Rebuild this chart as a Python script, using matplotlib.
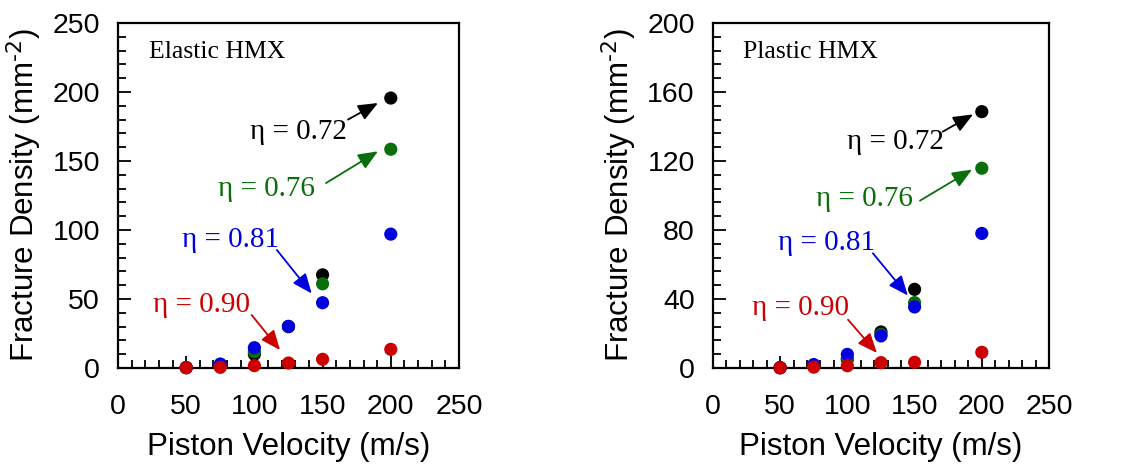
import matplotlib

matplotlib.use("Agg")
import matplotlib.pyplot as plt  # noqa: E402
from matplotlib.ticker import MultipleLocator  # noqa: E402

velocity = [50, 75, 100, 125, 150, 200]
etas = ["0.72", "0.76", "0.81", "0.90"]
colors = ["#000000", "#0a6e0a", "#0000dd", "#cc0000"]

# Elastic HMX, fracture density (mm^-2) per eta
elastic = {
    "0.72": [0.3, 1.5, 9.9, 30.0, 67.5, 195.6],
    "0.76": [0.3, 1.8, 11.8, 30.0, 61.0, 158.5],
    "0.81": [0.3, 2.9, 14.7, 30.2, 47.3, 97.0],
    "0.90": [0.2, 0.5, 1.7, 3.6, 6.3, 13.5],
}
# Plastic HMX
plastic = {
    "0.72": [0.2, 1.2, 5.0, 20.9, 45.6, 148.6],
    "0.76": [0.2, 1.5, 5.6, 19.5, 37.9, 115.8],
    "0.81": [0.2, 2.0, 7.9, 18.6, 35.4, 78.0],
    "0.90": [0.1, 0.5, 1.3, 3.1, 3.3, 9.1],
}

# label anchor (x, y) and arrow tail/head, in data coords
elastic_notes = {
    "0.72": ((97, 171), (168.6, 180), (190.6, 192)),
    "0.76": ((73, 130), (152.5, 134), (190.6, 157)),
    "0.81": ((47, 93), (116.5, 85.5), (142, 54)),
    "0.90": ((26, 45.6), (98, 38.4), (118.8, 13)),
}
plastic_notes = {
    "0.72": ((100, 131), (171, 137), (193.5, 147)),
    "0.76": ((77, 98), (154, 97), (192.7, 115)),
    "0.81": ((48.5, 72.5), (119, 66.5), (145, 42)),
    "0.90": ((29, 34.8), (100.5, 28), (122, 8.7)),
}

SERIF = "Liberation Serif"
SANS = "Liberation Sans"

fig = plt.figure(figsize=(11.28, 4.65), dpi=100)
ax1 = fig.add_axes([0.1046, 0.2086, 0.3023, 0.742])
ax2 = fig.add_axes([0.632, 0.2086, 0.298, 0.742])


def draw_panel(ax, data, notes, title, ymax, ymajor, yminor):
    for eta, col in zip(etas, colors):
        ax.scatter(velocity, data[eta], s=90, color=col, zorder=3,
                   edgecolors="none", clip_on=False)
    for eta, col in zip(etas, colors):
        (tx, ty), tail, head = notes[eta]
        ax.text(tx, ty, f"η = {eta}", color=col, fontsize=21,
                family=SERIF, va="center", ha="left")
        ax.annotate("", xy=head, xytext=tail,
                    arrowprops=dict(arrowstyle="-|>,head_length=0.6,head_width=0.25",
                                    color=col, lw=1.3, mutation_scale=20,
                                    shrinkA=0, shrinkB=0))
    ax.text(0.09, 0.915, title, transform=ax.transAxes, fontsize=18.5,
            family=SERIF, va="center")
    ax.set_xlim(0, 250)
    ax.set_ylim(0, ymax)
    ax.xaxis.set_major_locator(MultipleLocator(50))
    ax.xaxis.set_minor_locator(MultipleLocator(10))
    ax.yaxis.set_major_locator(MultipleLocator(ymajor))
    ax.yaxis.set_minor_locator(MultipleLocator(yminor))
    ax.tick_params(which="both", direction="in", top=False, right=False,
                   width=1.3, labelsize=20.5)
    ax.tick_params(axis="x", which="both", pad=19)
    ax.tick_params(axis="y", which="both", pad=13)
    ax.tick_params(which="major", length=9)
    ax.tick_params(which="minor", length=6)
    for lab in ax.get_xticklabels() + ax.get_yticklabels():
        lab.set_family(SANS)
    for sp in ax.spines.values():
        sp.set_linewidth(1.6)
    ax.set_xlabel("Piston Velocity (m/s)", fontsize=22.5, family=SANS,
                  labelpad=8)
    ax.set_ylabel(r"Fracture Density (mm$^{\text{-2}}$)", fontsize=22.5,
                  family=SANS, labelpad=6)


draw_panel(ax1, elastic, elastic_notes, "Elastic HMX", 250, 50, 10)
draw_panel(ax2, plastic, plastic_notes, "Plastic HMX", 200, 40, 8)

fig.savefig("out.png", dpi=100)
